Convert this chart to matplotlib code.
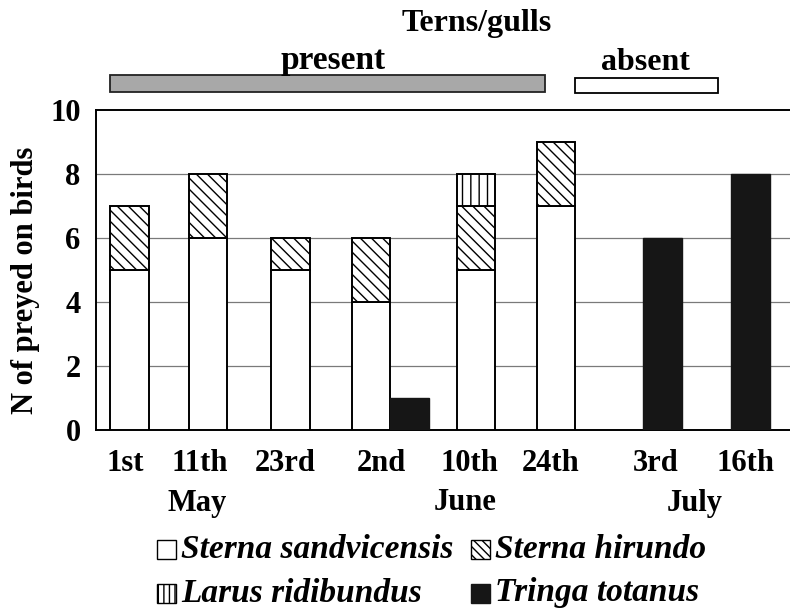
import numpy as np
import matplotlib
matplotlib.use('Agg')
import matplotlib.pyplot as plt
from matplotlib.patches import Rectangle

plt.rcParams['font.family'] = ['Liberation Serif', 'DejaVu Serif']
plt.rcParams['font.weight'] = 'bold'
plt.rcParams['hatch.linewidth'] = 1.0

# data
dates = ['1st', '11th', '23rd', '2nd', '10th', '24th', '3rd', '16th']
months = ['May', 'June', 'July']
species = ['Sterna sandvicensis', 'Sterna hirundo', 'Larus ridibundus', 'Tringa totanus']
sandvicensis = [5, 6, 5, 4, 5, 7, 0, 0]
hirundo = [2, 2, 1, 2, 2, 2, 0, 0]
larus = [0, 0, 0, 0, 1, 0, 0, 0]
tringa = [0, 0, 0, 1, 0, 0, 6, 8]
yticks = [0, 2, 4, 6, 8, 10]

# layout (pixel-like x units)
W, H = 790, 610
bar_x = np.array([129.5, 208, 290.5, 371, 476, 556, 662.5, 750.5])
tick_x = np.array([125, 200, 285, 381, 469, 551, 656, 746])
month_x = [197, 465, 695]
bw = 38.5
dark = '#161616'
hatches = {'hirundo': '\\\\\\', 'larus': '||'}


def fx(px):
    return px / W


def fy(py):
    return 1 - py / H


fig = plt.figure(figsize=(7.9, 6.1), dpi=100)
ax = fig.add_axes([fx(96), fy(430), fx(790 - 96), (430 - 110) / H])

s = np.array(sandvicensis)
h = np.array(hirundo)
l = np.array(larus)
t = np.array(tringa)
terns = s + h + l

edge = dict(edgecolor='black', linewidth=1.4, zorder=3)
m = s > 0
ax.bar(bar_x[m], s[m], bw, color='white', **edge)
m = h > 0
ax.bar(bar_x[m], h[m], bw, bottom=s[m], color='white', hatch=hatches['hirundo'], **edge)
m = l > 0
ax.bar(bar_x[m], l[m], bw, bottom=(s + h)[m], color='white', hatch=hatches['larus'], **edge)
# Tringa drawn beside the tern stack when both occur on a date
tx = np.where(terns > 0, bar_x + bw, bar_x)
m = t > 0
ax.bar(tx[m], t[m], bw, color=dark, edgecolor=dark, linewidth=1.0, zorder=3)

ax.set_xlim(96, 790)
ax.set_ylim(0, 10)
ax.set_yticks(yticks)
ax.set_yticklabels([str(v) for v in yticks], fontsize=22)
ax.set_xticks(tick_x)
ax.set_xticklabels(dates, fontsize=22)
ax.tick_params(axis='y', length=0, pad=11)
ax.tick_params(axis='x', length=0, pad=14)
for v in yticks[1:-1]:
    ax.axhline(v, color='#7a7a7a', linewidth=0.9, zorder=1)
ax.spines['right'].set_visible(False)
for sp in ['left', 'top', 'bottom']:
    ax.spines[sp].set_linewidth(1.4)
ax.set_ylabel('N of preyed on birds', fontsize=22, fontweight='bold')
ax.yaxis.set_label_coords((40 - 96) / 694, (430 - 280) / 320)

for name, x in zip(months, month_x):
    fig.text(fx(x), fy(503), name, fontsize=22, ha='center', va='center')

# presence bars at the top
fig.text(fx(477), fy(24), 'Terns/gulls', fontsize=23, ha='center', va='center')
fig.text(fx(333), fy(60), 'present', fontsize=24, ha='center', va='center')
fig.text(fx(645), fy(62), 'absent', fontsize=23, ha='center', va='center')
fig.add_artist(Rectangle((fx(110), fy(92)), fx(545 - 110), (92 - 75) / H,
                         transform=fig.transFigure, facecolor='#a8a8a8',
                         edgecolor='#222222', linewidth=1.3))
fig.add_artist(Rectangle((fx(575), fy(93)), fx(718 - 575), (93 - 78) / H,
                         transform=fig.transFigure, facecolor='white',
                         edgecolor='black', linewidth=1.3))

# legend, two rows by two columns
legend_items = [
    (species[0], 'white', '', 157, 549),
    (species[1], 'white', '\\\\\\\\', 471, 549),
    (species[2], 'white', '|||', 157, 593),
    (species[3], dark, '', 471, 593),
]
box = 19
for name, fc, hat, x, y in legend_items:
    ec = dark if fc == dark else 'black'
    fig.add_artist(Rectangle((fx(x), fy(y + box / 2)), fx(box), box / H,
                             transform=fig.transFigure, facecolor=fc,
                             edgecolor=ec, hatch=hat, linewidth=1.0))
    fig.text(fx(x + box + 5), fy(y), name, fontsize=24, style='italic',
             ha='left', va='center')

fig.savefig('out.png', dpi=100)
